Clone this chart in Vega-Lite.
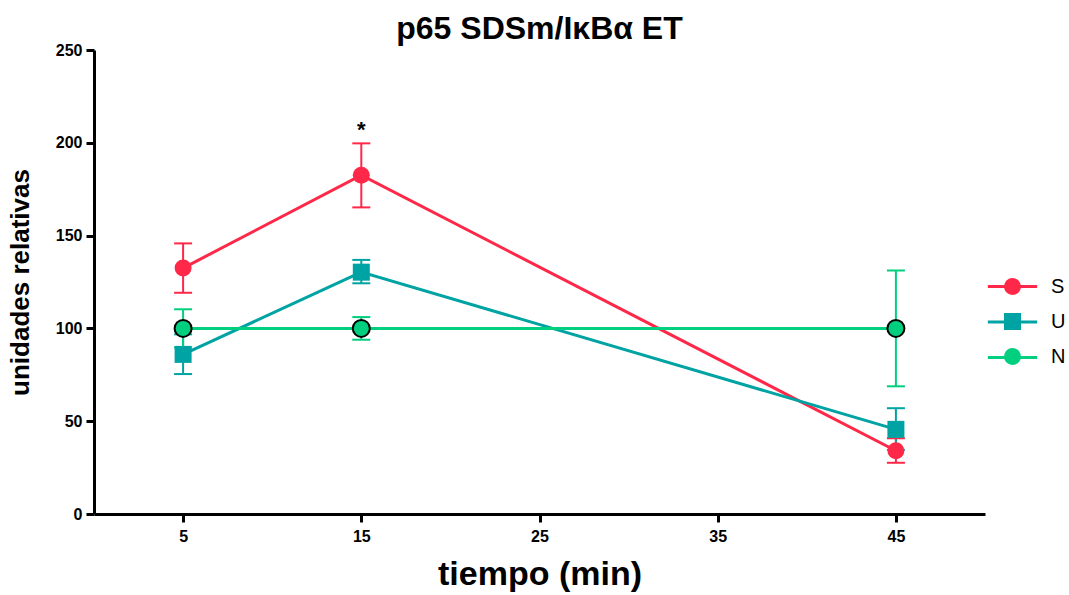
{
  "$schema": "https://vega.github.io/schema/vega-lite/v6.json",
  "autosize": "none",
  "width": 891,
  "height": 464,
  "padding": {"left": 94, "top": 50, "right": 84, "bottom": 81},
  "background": "white",
  "title": {"text": "p65 SDSm/IκBα ET", "font": "Liberation Sans", "fontSize": 32, "fontWeight": "bold", "color": "black", "anchor": "middle", "offset": 6, "dy": 10},
  "config": {
    "view": {"stroke": null},
    "font": "Liberation Sans",
    "axis": {"grid": false, "domainColor": "black", "domainWidth": 3, "tickColor": "black", "tickWidth": 3, "tickSize": 8, "labelFont": "Liberation Sans", "labelFontWeight": "bold", "labelFontSize": 16, "labelColor": "black", "titleFont": "Liberation Sans", "titleFontWeight": "bold", "titleColor": "black"}
  },
  "datasets": {
    "pts": [
      {"series": "S", "time": 5, "value": 132.5, "lo": 119.2, "hi": 145.8},
      {"series": "S", "time": 15, "value": 182.5, "lo": 165.2, "hi": 199.7},
      {"series": "S", "time": 45, "value": 34.1, "lo": 27.6, "hi": 40.8},
      {"series": "U", "time": 5, "value": 86, "lo": 75.4, "hi": 96.8},
      {"series": "U", "time": 15, "value": 130.3, "lo": 124.3, "hi": 136.9},
      {"series": "U", "time": 45, "value": 45.6, "lo": 34.6, "hi": 57},
      {"series": "N", "time": 5, "value": 100, "lo": 89.7, "hi": 110.3},
      {"series": "N", "time": 15, "value": 100, "lo": 93.9, "hi": 106.1},
      {"series": "N", "time": 45, "value": 100, "lo": 68.8, "hi": 131.2}
    ],
    "ann": [{"time": 15, "value": 209, "label": "*"}]
  },
  "data": {"name": "pts"},
  "layer": [
    {
      "mark": {"type": "line", "strokeWidth": 3},
      "encoding": {
        "x": {"field": "time", "type": "quantitative", "scale": {"domain": [0, 50], "nice": false, "zero": false},
              "axis": {"values": [5, 15, 25, 35, 45], "title": "tiempo (min)", "titleFontSize": 34, "titlePadding": 13, "labelPadding": 6}},
        "y": {"field": "value", "type": "quantitative", "scale": {"domain": [0, 250], "nice": false},
              "axis": {"values": [0, 50, 100, 150, 200, 250], "title": "unidades relativas", "titleFontSize": 26, "titlePadding": 22, "labelPadding": 4}},
        "stroke": {"field": "series", "type": "nominal", "sort": ["S", "U", "N"],
          "scale": {"range": ["#FF2848", "#00A3A3", "#00CF7F"]},
          "legend": {"orient": "none", "legendX": 908.5, "legendY": 226.5, "title": null, "padding": 0,
                     "symbolType": "M-2.9,0H2.9", "symbolSize": 289, "symbolStrokeWidth": 3,
                     "rowPadding": 15.5, "labelOffset": 28.5, "labelFontSize": 20, "labelFont": "Liberation Sans", "labelColor": "transparent"}},
        "detail": {"field": "series"}
      }
    },
    {
      "mark": {"type": "rule", "strokeWidth": 2},
      "encoding": {
        "x": {"field": "time", "type": "quantitative"},
        "y": {"field": "lo", "type": "quantitative"},
        "y2": {"field": "hi"},
        "stroke": {"field": "series", "type": "nominal", "sort": ["S", "U", "N"], "legend": null}
      }
    },
    {
      "mark": {"type": "rule", "strokeWidth": 2, "xOffset": -9, "x2Offset": 9},
      "encoding": {
        "x": {"field": "time", "type": "quantitative"},
        "x2": {"field": "time"},
        "y": {"field": "lo", "type": "quantitative"},
        "stroke": {"field": "series", "type": "nominal", "sort": ["S", "U", "N"], "legend": null}
      }
    },
    {
      "mark": {"type": "rule", "strokeWidth": 2, "xOffset": -9, "x2Offset": 9},
      "encoding": {
        "x": {"field": "time", "type": "quantitative"},
        "x2": {"field": "time"},
        "y": {"field": "hi", "type": "quantitative"},
        "stroke": {"field": "series", "type": "nominal", "sort": ["S", "U", "N"], "legend": null}
      }
    },
    {
      "mark": {"type": "point", "filled": true, "size": 289, "opacity": 1},
      "encoding": {
        "x": {"field": "time", "type": "quantitative"},
        "y": {"field": "value", "type": "quantitative"},
        "fill": {"field": "series", "type": "nominal",
          "scale": {"domain": ["S", "U", "N"], "range": ["#FF2848", "#00A3A3", "#00CF7F"]},
          "legend": {"orient": "none", "legendX": 908.5, "legendY": 226.5, "title": null, "padding": 0,
                     "symbolSize": 289, "symbolOpacity": 1,
                     "rowPadding": 11, "labelOffset": 28.5, "labelFontSize": 20, "labelFont": "Liberation Sans", "labelColor": "black"}},
        "shape": {"field": "series", "type": "nominal",
          "scale": {"domain": ["S", "U", "N"], "range": ["circle", "square", "circle"]},
          "legend": {"orient": "none", "legendX": 908.5, "legendY": 226.5, "title": null, "padding": 0,
                     "symbolSize": 289, "symbolOpacity": 1,
                     "rowPadding": 11, "labelOffset": 28.5, "labelFontSize": 20, "labelFont": "Liberation Sans", "labelColor": "black"}}
      }
    },
    {
      "transform": [{"filter": "datum.series === 'N'"}],
      "mark": {"type": "point", "filled": false, "stroke": "black", "strokeWidth": 2, "size": 289, "shape": "circle", "opacity": 1},
      "encoding": {
        "x": {"field": "time", "type": "quantitative"},
        "y": {"field": "value", "type": "quantitative"}
      }
    },
    {
      "data": {"name": "ann"},
      "mark": {"type": "text", "fontSize": 22, "fontWeight": "bold", "font": "Liberation Sans", "color": "black", "baseline": "middle", "dy": 4},
      "encoding": {
        "x": {"field": "time", "type": "quantitative"},
        "y": {"field": "value", "type": "quantitative"},
        "text": {"field": "label"}
      }
    }
  ]
}
